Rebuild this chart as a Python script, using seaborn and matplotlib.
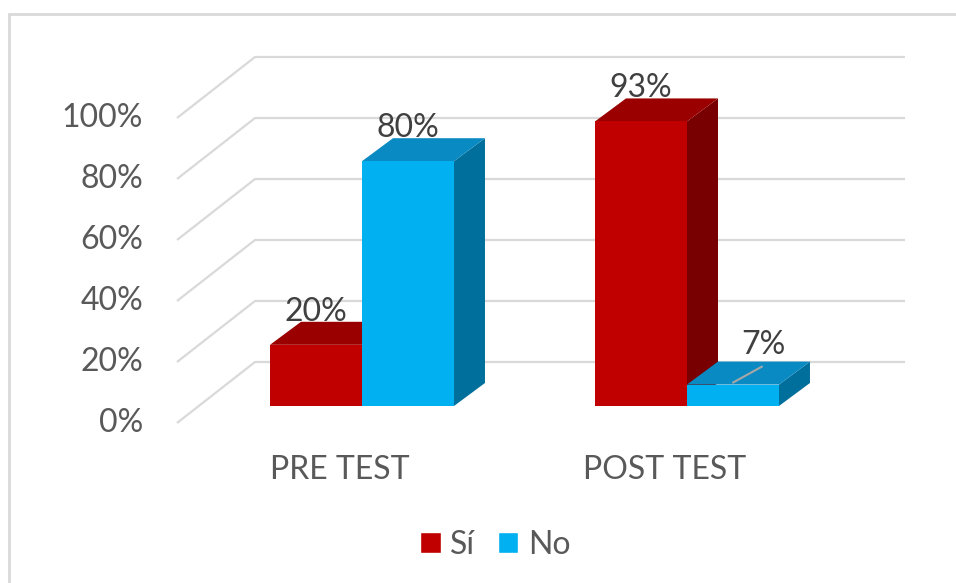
import matplotlib
matplotlib.use('Agg')
import pandas as pd
import matplotlib.pyplot as plt
import seaborn as sns
from matplotlib.patches import Polygon
from matplotlib.lines import Line2D

# =============================================================================
# Data
# =============================================================================
tests = ['PRE TEST', 'POST TEST']
answers = ['Sí', 'No']
si_values = [20, 93]
no_values = [80, 7]
y_ticks = [0, 20, 40, 60, 80, 100]

df = pd.DataFrame({
    'test': tests * 2,
    'answer': ['Sí'] * len(tests) + ['No'] * len(tests),
    'value': si_values + no_values,
})

front_colors = {'Sí': '#C00000', 'No': '#00B0F0'}
top_colors = {'Sí': '#9A0000', 'No': '#0A8AC2'}
side_colors = {'Sí': '#780000', 'No': '#006F9B'}

# =============================================================================
# Figure and pixel <-> data mapping
# =============================================================================
W, H = 956, 583
sns.set_theme(style='white')
plt.rcParams['font.family'] = ['Lato', 'DejaVu Sans']
FS = 23

fig = plt.figure(figsize=(W / 100, H / 100), dpi=100)
ax = fig.add_axes([0, 0, 1, 1])

x_scale = 325.0   # px per category
y_scale = 3.06    # px per percent (bar front)
x_origin = 362.0  # px of first category centre
y_origin = 406.0  # px of 0% at bar front


def dx(px):
    return (px - x_origin) / x_scale


def dy(py):
    return (y_origin - py) / y_scale


# depth of the 3d boxes
ox = 31 / x_scale
oy = 23 / y_scale

sns.barplot(data=df, x='test', y='value', hue='answer', order=tests,
            hue_order=answers, palette=front_colors, width=0.566, gap=0,
            saturation=1, ax=ax)

ax.set_xlim(dx(0), dx(W))
ax.set_ylim(dy(H), dy(0))
ax.axis('off')

# =============================================================================
# 3d faces, labels
# =============================================================================
for i, answer in enumerate(answers):
    base_z = 2 + 2 * i
    for j, p in enumerate(ax.patches[i * len(tests):(i + 1) * len(tests)]):
        x, w, h = p.get_x(), p.get_width(), p.get_height()
        p.set_zorder(base_z + 1)
        p.set_linewidth(0)
        side = Polygon([(x + w, 0), (x + w + ox, oy), (x + w + ox, h + oy), (x + w, h)],
                       closed=True, facecolor=side_colors[answer], edgecolor='none', zorder=base_z)
        top = Polygon([(x, h), (x + ox, h + oy), (x + w + ox, h + oy), (x + w, h)],
                      closed=True, facecolor=top_colors[answer], edgecolor='none', zorder=base_z)
        ax.add_patch(side)
        ax.add_patch(top)

        cx = x + w / 2
        if h < 10:
            # small bar: label pulled out with a leader line
            ax.plot([cx, cx + 29 / x_scale], [h + 2 / y_scale, h + 18 / y_scale],
                    color='#A6A6A6', lw=1.5, zorder=8)
            ax.text(cx + 30 / x_scale, h + 40 / y_scale, f'{h:.0f}%', ha='center', va='center',
                    fontsize=FS, color='#404040', zorder=9)
        else:
            ax.text(cx, h + 33 / y_scale, f'{h:.0f}%', ha='center', va='center',
                    fontsize=FS, color='#404040', zorder=9)

# =============================================================================
# Walls: gridlines, tick labels, categories
# =============================================================================
for v in y_ticks:
    front = 423 - 3.05 * v
    back = 362 - 3.05 * v
    ax.plot([dx(177), dx(255), dx(905)], [dy(front), dy(back), dy(back)],
            color='#D9D9D9', lw=1.6, zorder=1, solid_capstyle='butt')
    ax.text(dx(143), dy(front), f'{v}%', ha='right', va='center',
            fontsize=FS, color='#595959')

for i, t in enumerate(tests):
    ax.text(i - 22 / x_scale, dy(470), t, ha='center', va='center',
            fontsize=FS, color='#595959')

sns.move_legend(ax, 'center', bbox_to_anchor=(0.518, 1 - 545 / H),
                bbox_transform=fig.transFigure, ncol=2, frameon=False, title=None,
                fontsize=FS, labelcolor='#595959', handlelength=0.65, handleheight=0.65,
                handletextpad=0.3, columnspacing=0.7)

# chart border
fig.add_artist(Line2D([8.5 / W, 8.5 / W], [0, 1 - 14 / H], transform=fig.transFigure,
                      color='#D9D9D9', lw=2))
fig.add_artist(Line2D([8.5 / W, 1], [1 - 14 / H, 1 - 14 / H], transform=fig.transFigure,
                      color='#D9D9D9', lw=2))

fig.savefig('out.png', dpi=100)
